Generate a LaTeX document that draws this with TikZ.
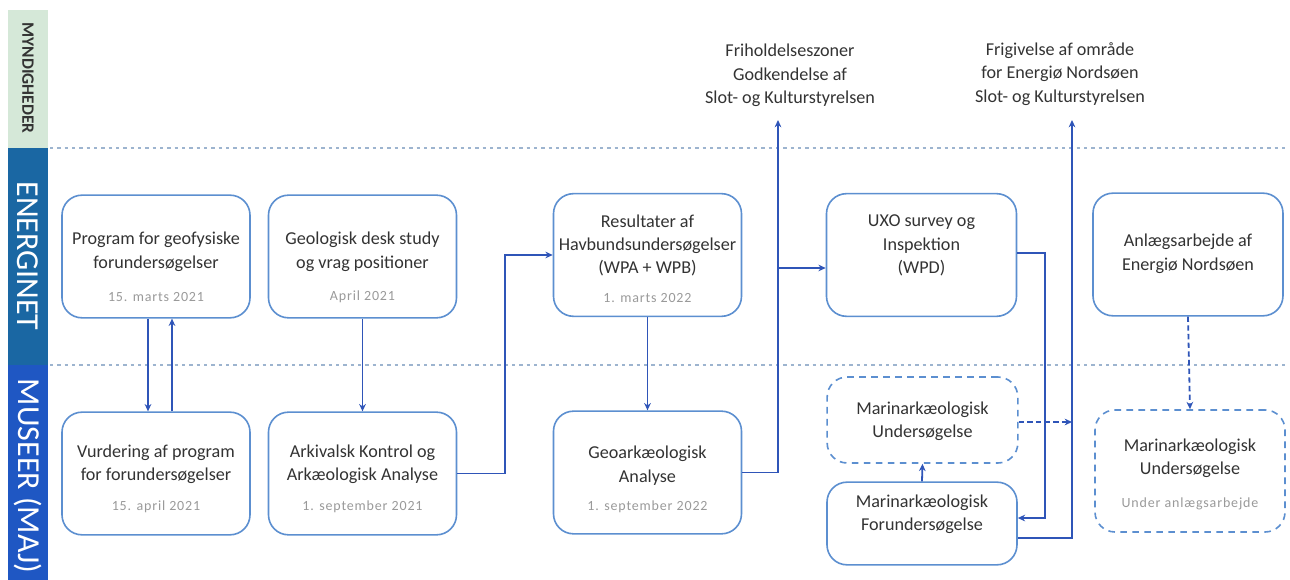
\documentclass[tikz,border=0pt]{standalone}
\usepackage{fontspec}
\setmainfont{Carlito}
\usetikzlibrary{arrows.meta,calc}
\definecolor{linec}{HTML}{2F55B8}
\definecolor{boxc}{HTML}{5C8FD0}
\definecolor{txt}{HTML}{333333}
\definecolor{datec}{HTML}{9A9A9A}
\definecolor{myn}{HTML}{D5E8D8}
\definecolor{ene}{HTML}{1A67A3}
\definecolor{mus}{HTML}{1F57C3}
\definecolor{dotc}{HTML}{9DB4CF}
\begin{document}
\begin{tikzpicture}[x=0.75pt,y=-0.75pt,
  box/.style={draw=boxc, line width=1.2pt, rounded corners=15pt, minimum width=141pt, minimum height=92pt, inner sep=0pt},
  dbox/.style={box, dash pattern=on 5pt off 4pt},
  lbl/.style={text=txt, font=\fontsize{13.6pt}{17.6pt}\selectfont, align=center, inner sep=0pt},
  datel/.style={text=datec, font=\fontsize{10.5pt}{12pt}\selectfont\addfontfeature{LetterSpace=6}, inner sep=0pt},
  conn/.style={draw=linec, line width=1.35pt, -{Stealth[length=5.5pt,width=5pt]}},
  dconn/.style={conn, dash pattern=on 4pt off 2.5pt},
  laneline/.style={draw=dotc, line width=0.9pt, dash pattern=on 2.5pt off 3pt},
  side/.style={rotate=-90, inner sep=0pt, text=white, font=\fontsize{24pt}{24pt}\selectfont}
]
\useasboundingbox (0,0) rectangle (1290,580);
\fill[white] (0,0) rectangle (1290,580);

% sidebar
\fill[myn] (8,10) rectangle (48,148);
\fill[ene] (8,148) rectangle (48,365);
\fill[mus] (8,365) rectangle (48,580);
\node[side, text=txt, font=\fontsize{13pt}{13pt}\selectfont\bfseries] (sm) at (28,78) {MYNDIGHEDER};
\node[side] (se) at (28,256) {ENERGINET};
\node[side] (su) at (28,476) {MUSEER (MAJ)};

% lane separators
\draw[laneline] (50,148) -- (1285,148);
\draw[laneline] (50,365) -- (1285,365);

% boxes
\node[box] (prog) at (156,256.5) {};
\node[box] (geo) at (362.5,256.5) {};
\node[box] (vurd) at (156,473.5) {};
\node[box] (ark) at (362.5,473.5) {};
\node[box] (res) at (647.5,255) {};
\node[box] (geoark) at (647.5,472.5) {};
\node[box, minimum width=142.5pt] (uxo) at (921.5,255) {};
\node[box, minimum width=142.5pt] (anl) at (1188,254.5) {};
\node[dbox, minimum width=143pt, minimum height=64.5pt] (mu1) at (922.5,420) {};
\node[box, minimum width=142.5pt, minimum height=62pt] (mfor) at (922,523.5) {};
\node[dbox, minimum width=142.5pt, minimum height=91.5pt] (mu2) at (1190,471) {};

% texts
\node[lbl] (tprog) at (156,252) {Program for geofysiske\\forundersøgelser};
\node[datel] (dprog) at (156,297) {15. marts 2021};
\node[lbl] (tgeo) at (362.5,252) {Geologisk desk study\\og vrag positioner};
\node[datel] (dgeo) at (362.5,297) {April 2021};
\node[lbl] (tvurd) at (156,464.5) {Vurdering af program\\for forundersøgelser};
\node[datel] (dvurd) at (156,507) {15. april 2021};
\node[lbl] (tark) at (362.5,464.5) {Arkivalsk Kontrol og\\Arkæologisk Analyse};
\node[datel] (dark) at (362.5,507) {1. september 2021};
\node[lbl] (tres) at (647.5,245.5) {Resultater af\\Havbundsundersøgelser\\(WPA + WPB)};
\node[datel] (dres) at (647.5,298) {1. marts 2022};
\node[lbl] (tgeoark) at (647.5,465.5) {Geoarkæologisk\\Analyse};
\node[datel] (dgeoark) at (647.5,507) {1. september 2022};
\node[lbl] (tuxo) at (921.5,245.5) {UXO survey og\\Inspektion\\(WPD)};
\node[lbl] (tanl) at (1188,254) {Anlægsarbejde af\\Energiø Nordsøen};
\node[lbl] (tmu1) at (922.5,421.5) {Marinarkæologisk\\Undersøgelse};
\node[lbl] (tmfor) at (922,514.5) {Marinarkæologisk\\Forundersøgelse};
\node[lbl] (tmu2) at (1190,458.5) {Marinarkæologisk\\Undersøgelse};
\node[datel] (dmu2) at (1190,504) {Under anlægsarbejde};
\node[lbl] (lab1) at (790,75.5) {Friholdelseszoner\\Godkendelse af\\Slot- og Kulturstyrelsen};
\node[lbl] (lab2) at (1060,74) {Frigivelse af område\\for Energiø Nordsøen\\Slot- og Kulturstyrelsen};

% helper coordinates
\coordinate (t1) at (778,120);
\coordinate (t2) at (1072,120);
\coordinate (j1) at (778,268);

% connectors
\draw[conn] ([xshift=-6pt]prog.south) -- ([xshift=-6pt]vurd.north);
\draw[conn] ([xshift=12pt]vurd.north) -- ([xshift=12pt]prog.south);
\draw[conn] (geo.south) -- (ark.north);
\draw[conn] (ark.east) -- ++(48,0) |- (res.west);
\draw[conn] (res.south) -- (geoark.north);
\draw[conn] (geoark.east) -| (t1);
\draw[conn] (j1) -- (uxo.west |- j1);
\draw[conn] ([yshift=-10.9pt]mfor.east) -| (t2);
\draw[conn] ([yshift=1.5pt]uxo.east) -- ++(28,0) |- ([yshift=4.1pt]mfor.east);
\draw[dconn] ([yshift=-1.5pt]mu1.east) -- ([yshift=-1.5pt]mu1.east -| t2);
\draw[conn] (mfor.north) -- (mu1.south);
\draw[dconn] (anl.south) -- (mu2.north);
\end{tikzpicture}
\end{document}
